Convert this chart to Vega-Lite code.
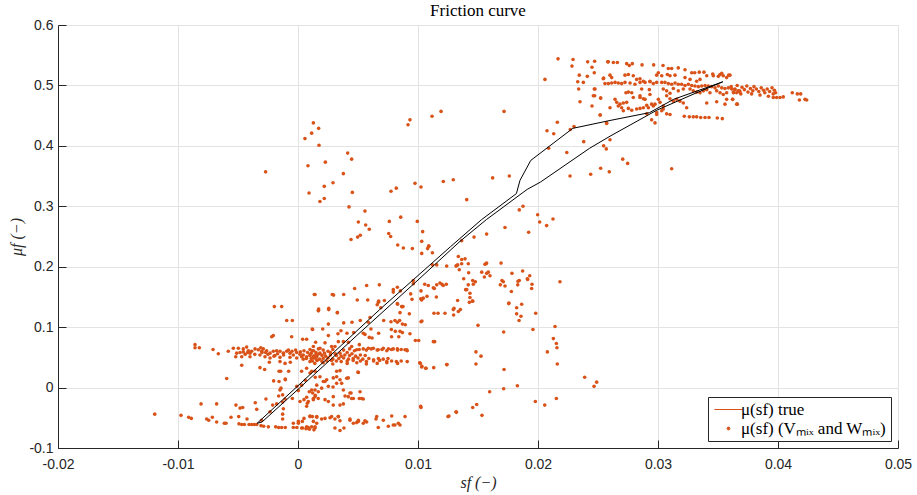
{
"$schema": "https://vega.github.io/schema/vega-lite/v6.json",
"width": 840, "height": 423,
"autosize": {"type": "none"},
"padding": {"left": 58, "top": 25, "right": 19, "bottom": 47},
"background": "white",
"title": {"text": "Friction curve", "font": "Liberation Serif", "fontSize": 17, "fontWeight": "normal", "color": "#000000", "offset": -2, "anchor": "middle"},
"datasets": {
"curve": [
{"o":1,"s":-0.0034,"mu":-0.059},{"o":2,"s":-0.0030,"mu":-0.057},{"o":3,"s":0.0,"mu":-0.003},{"o":4,"s":0.005,"mu":0.088},{"o":5,"s":0.010,"mu":0.178},{"o":6,"s":0.0135,"mu":0.242},{"o":7,"s":0.0157,"mu":0.278},{"o":8,"s":0.0191,"mu":0.328},{"o":9,"s":0.0202,"mu":0.340},{"o":10,"s":0.0243,"mu":0.396},{"o":11,"s":0.026,"mu":0.416},{"o":12,"s":0.0299,"mu":0.459},{"o":13,"s":0.033,"mu":0.486},{"o":14,"s":0.0354,"mu":0.506},{"o":15,"s":0.0313,"mu":0.477},{"o":16,"s":0.0293,"mu":0.455},{"o":17,"s":0.026,"mu":0.442},{"o":18,"s":0.0229,"mu":0.429},{"o":19,"s":0.0194,"mu":0.376},{"o":20,"s":0.0185,"mu":0.343},{"o":21,"s":0.0182,"mu":0.321},{"o":22,"s":0.0153,"mu":0.278},{"o":23,"s":0.0127,"mu":0.233},{"o":24,"s":0.0068,"mu":0.129},{"o":25,"s":0.0,"mu":0.003},{"o":26,"s":-0.0034,"mu":-0.059}
],
"pts": [
{"s":-0.01194,"mu":-0.044},{"s":-0.00975,"mu":-0.046},{"s":-0.00911,"mu":-0.049},{"s":-0.00889,"mu":-0.051},{"s":-0.00808,"mu":-0.027},{"s":-0.00761,"mu":-0.052},{"s":-0.00744,"mu":-0.054},{"s":-0.00714,"mu":-0.049},{"s":-0.00678,"mu":-0.057},{"s":-0.00678,"mu":-0.027},{"s":-0.00614,"mu":-0.059},{"s":-0.006,"mu":-0.059},{"s":-0.00558,"mu":-0.049},{"s":-0.00517,"mu":-0.029},{"s":-0.00494,"mu":-0.048},{"s":-0.00483,"mu":-0.034},{"s":-0.00461,"mu":-0.033},{"s":-0.00492,"mu":-0.06},{"s":-0.00469,"mu":-0.061},{"s":-0.00447,"mu":-0.061},{"s":-0.00425,"mu":-0.052},{"s":-0.00408,"mu":-0.061},{"s":-0.00386,"mu":-0.061},{"s":-0.00364,"mu":-0.061},{"s":-0.00344,"mu":-0.061},{"s":-0.00308,"mu":-0.063},{"s":-0.00286,"mu":-0.064},{"s":-0.00247,"mu":-0.065},{"s":-0.00186,"mu":-0.065},{"s":-0.00161,"mu":-0.066},{"s":-0.00136,"mu":-0.066},{"s":-0.00106,"mu":-0.066},{"s":-0.00356,"mu":-0.025},{"s":-0.00344,"mu":-0.036},{"s":-0.00267,"mu":-0.019},{"s":-0.00233,"mu":-0.04},{"s":-0.00303,"mu":-0.054},{"s":-0.00211,"mu":-0.029},{"s":-0.00178,"mu":-0.027},{"s":-0.00128,"mu":-0.024},{"s":-0.00122,"mu":-0.035},{"s":-0.00128,"mu":-0.044},{"s":-0.00128,"mu":-0.052},{"s":-0.00161,"mu":-0.014},{"s":-0.00128,"mu":-0.012},{"s":-0.00108,"mu":-0.019},{"s":-0.00203,"mu":0.011},{"s":-0.00158,"mu":0.01},{"s":-0.00142,"mu":-0.001},{"s":-0.00106,"mu":0.013},{"s":-0.0015,"mu":-0.004},{"s":-0.00594,"mu":0.015},{"s":-0.00469,"mu":0.037},{"s":-0.00317,"mu":0.033},{"s":-0.00278,"mu":0.03},{"s":-0.00239,"mu":0.042},{"s":-0.0015,"mu":0.043},{"s":-0.00144,"mu":0.027},{"s":-0.00108,"mu":0.04},{"s":-0.00078,"mu":0.027},{"s":-0.00064,"mu":0.042},{"s":-0.00219,"mu":0.084},{"s":-0.00206,"mu":0.086},{"s":-0.00094,"mu":0.111},{"s":-0.00047,"mu":0.111},{"s":-0.00053,"mu":0.084},{"s":-0.00197,"mu":0.134},{"s":-0.00136,"mu":0.134},{"s":-0.0001,"mu":0.002},{"s":0.00003,"mu":-0.005},{"s":-0.00047,"mu":-0.018},{"s":0.00017,"mu":-0.023},{"s":0.0005,"mu":-0.02},{"s":0.0003,"mu":0.004},{"s":0.00061,"mu":0.012},{"s":0.00072,"mu":-0.016},{"s":0.00086,"mu":-0.023},{"s":0.00128,"mu":-0.02},{"s":0.00144,"mu":-0.013},{"s":0.00169,"mu":-0.007},{"s":0.00003,"mu":-0.056},{"s":0.0005,"mu":-0.051},{"s":0.00072,"mu":-0.065},{"s":0.001,"mu":-0.048},{"s":0.00128,"mu":-0.056},{"s":0.00156,"mu":-0.048},{"s":-0.00039,"mu":-0.066},{"s":-0.0001,"mu":-0.066},{"s":0.0003,"mu":-0.067},{"s":0.00067,"mu":-0.068},{"s":0.00094,"mu":-0.069},{"s":0.00133,"mu":-0.07},{"s":-0.00158,"mu":0.027},{"s":-0.00106,"mu":0.014},
{"s":-0.00858,"mu":0.071},{"s":-0.00858,"mu":0.066},{"s":-0.00822,"mu":0.066},{"s":-0.00708,"mu":0.063},{"s":-0.00664,"mu":0.056},{"s":-0.00581,"mu":0.06},{"s":-0.00539,"mu":0.065},{"s":-0.00497,"mu":0.065},{"s":-0.00456,"mu":0.064},{"s":-0.00428,"mu":0.067},{"s":-0.00414,"mu":0.061},{"s":-0.00386,"mu":0.06},{"s":-0.00511,"mu":0.057},{"s":-0.00483,"mu":0.058},{"s":-0.00456,"mu":0.059},{"s":-0.004,"mu":0.057},{"s":-0.00358,"mu":0.064},{"s":-0.00331,"mu":0.0625},{"s":-0.00303,"mu":0.06},{"s":-0.00289,"mu":0.064},{"s":-0.00261,"mu":0.061},{"s":-0.00233,"mu":0.057},{"s":-0.00206,"mu":0.06},{"s":-0.00178,"mu":0.061},{"s":-0.0015,"mu":0.06},{"s":-0.00122,"mu":0.057},{"s":-0.00094,"mu":0.06},{"s":-0.00067,"mu":0.057},{"s":-0.00039,"mu":0.054},{"s":-0.00011,"mu":0.058},{"s":0.00017,"mu":0.055},{"s":0.00044,"mu":0.054},{"s":0.00072,"mu":0.051},{"s":0.001,"mu":0.054},{"s":0.00128,"mu":0.049},{"s":0.00156,"mu":0.051},{"s":0.00183,"mu":0.057},{"s":-0.00519,"mu":0.051},{"s":-0.00469,"mu":0.051},{"s":-0.004,"mu":0.051},{"s":-0.00317,"mu":0.054},{"s":-0.00275,"mu":0.051},{"s":-0.00233,"mu":0.049},{"s":-0.00192,"mu":0.053},{"s":-0.0015,"mu":0.05},{"s":-0.00067,"mu":0.05},{"s":-0.00011,"mu":0.049},{"s":0.00044,"mu":0.047},{"s":0.001,"mu":0.043},{"s":0.00156,"mu":0.0455},{"s":-0.0025,"mu":0.055},{"s":-0.002,"mu":0.052},{"s":-0.0012,"mu":0.054},{"s":-0.0008,"mu":0.062},{"s":-0.0005,"mu":0.06},{"s":-0.0002,"mu":0.062},{"s":0.0002,"mu":0.059},{"s":0.0005,"mu":0.061},{"s":0.0008,"mu":0.058},{"s":-0.003,"mu":0.058},{"s":-0.0036,"mu":0.055},{"s":-0.0044,"mu":0.055},{"s":-0.0031,"mu":0.066},{"s":-0.0042,"mu":0.058},{"s":0.0007,"mu":0.048},{"s":0.0012,"mu":0.061},{"s":0.0015,"mu":0.055},{"s":-0.0017,"mu":0.056},{"s":-0.0027,"mu":0.058},{"s":0.0003,"mu":0.051},
{"s":0.00039,"mu":0.08},{"s":0.00072,"mu":0.08},{"s":0.00119,"mu":0.097},{"s":0.00136,"mu":0.154},{"s":0.0017,"mu":0.128},{"s":0.00206,"mu":0.097},{"s":0.00256,"mu":0.129},{"s":0.00328,"mu":0.124},{"s":0.00494,"mu":0.145},{"s":0.0003,"mu":0.027},{"s":0.00072,"mu":0.032},{"s":0.00114,"mu":0.027},{"s":0.00144,"mu":0.017},
{"s":0.001,"mu":0.024},{"s":0.00142,"mu":0.027},{"s":0.00183,"mu":0.018},{"s":0.00211,"mu":0.01},{"s":0.00239,"mu":0.013},{"s":0.00294,"mu":0.016},{"s":0.00322,"mu":0.027},{"s":0.0035,"mu":0.028},{"s":0.00419,"mu":0.016},{"s":0.00503,"mu":0.025},{"s":0.00322,"mu":0.007},{"s":0.00364,"mu":0.007},{"s":0.00378,"mu":-0.004},{"s":0.00392,"mu":-0.014},{"s":0.00442,"mu":-0.009},{"s":0.00447,"mu":-0.018},{"s":0.00517,"mu":-0.007},{"s":0.00531,"mu":-0.018},{"s":0.00544,"mu":-0.019},{"s":0.00156,"mu":0.004},{"s":0.00142,"mu":-0.004},{"s":0.00114,"mu":-0.004},{"s":0.00128,"mu":-0.018},{"s":0.00169,"mu":-0.018},{"s":0.00225,"mu":-0.02},{"s":0.00294,"mu":-0.029},{"s":0.00253,"mu":-0.023},{"s":0.00406,"mu":0.0155},{"s":0.00433,"mu":-0.009},{"s":0.00511,"mu":-0.018},{"s":0.005,"mu":0.0255},{"s":0.00094,"mu":-0.007},{"s":0.00122,"mu":-0.009},{"s":0.00142,"mu":-0.015},{"s":0.00078,"mu":-0.026},{"s":0.00072,"mu":-0.031},{"s":0.00197,"mu":-0.001},{"s":0.00225,"mu":0.01},{"s":0.00253,"mu":0.002},{"s":0.00292,"mu":0.001},{"s":0.00294,"mu":-0.015},{"s":0.00322,"mu":0.018},{"s":0.0035,"mu":0.013},{"s":0.00419,"mu":-0.015},{"s":0.00461,"mu":-0.018},{"s":0.0035,"mu":-0.029},{"s":0.00378,"mu":-0.027},
{"s":-0.00039,"mu":-0.059},{"s":0.00003,"mu":-0.059},{"s":0.00036,"mu":-0.056},{"s":0.00086,"mu":-0.066},{"s":0.00114,"mu":-0.065},{"s":0.00142,"mu":-0.067},{"s":0.00039,"mu":-0.067},{"s":0.00156,"mu":-0.059},{"s":0.0012,"mu":-0.048},{"s":0.00197,"mu":-0.052},{"s":0.0028,"mu":-0.048},{"s":0.00336,"mu":-0.048},{"s":0.0035,"mu":-0.055},{"s":0.00308,"mu":-0.052},{"s":0.00383,"mu":-0.067},{"s":0.00433,"mu":-0.052},{"s":0.00461,"mu":-0.059},{"s":0.00503,"mu":-0.056},{"s":0.00544,"mu":-0.059},{"s":0.00572,"mu":-0.057},{"s":0.0065,"mu":-0.052},{"s":0.00669,"mu":-0.066},{"s":0.00753,"mu":-0.064},{"s":0.00794,"mu":-0.062},{"s":0.00836,"mu":-0.059},{"s":0.00892,"mu":-0.048},{"s":0.00781,"mu":-0.047},{"s":0.001,"mu":-0.047},{"s":0.00156,"mu":-0.049},{"s":0.00225,"mu":-0.051},{"s":0.00267,"mu":-0.05},{"s":0.00336,"mu":-0.048},{"s":0.00433,"mu":-0.054},{"s":0.00489,"mu":-0.058},{"s":0.00503,"mu":-0.054},{"s":0.00558,"mu":-0.055},{"s":0.00656,"mu":-0.048},{"s":0.00711,"mu":-0.054},{"s":0.00808,"mu":-0.062},{"s":0.0085,"mu":-0.062},{"s":0.00308,"mu":-0.067},{"s":0.0035,"mu":-0.071},{"s":0.00142,"mu":-0.065},
{"s":0.0017,"mu":0.127},{"s":0.00328,"mu":0.124},{"s":0.00253,"mu":0.105},{"s":0.00381,"mu":0.107},{"s":0.0045,"mu":0.108},{"s":0.00519,"mu":0.111},{"s":0.00122,"mu":0.096},{"s":0.00358,"mu":0.094},{"s":0.00333,"mu":0.089},{"s":0.00408,"mu":0.09},{"s":0.00464,"mu":0.091},{"s":0.00544,"mu":0.09},{"s":0.00558,"mu":0.088},{"s":0.00608,"mu":0.097},{"s":0.00594,"mu":0.083},{"s":0.00617,"mu":0.082},{"s":0.00672,"mu":0.09},{"s":0.00714,"mu":0.111},{"s":0.00775,"mu":0.109},{"s":0.00808,"mu":0.111},{"s":0.00828,"mu":0.108},{"s":0.00847,"mu":0.111},{"s":0.0083,"mu":0.138},{"s":0.00867,"mu":0.134},{"s":0.0085,"mu":0.124},{"s":0.00928,"mu":0.122},{"s":0.00894,"mu":0.104},{"s":0.0087,"mu":0.105},{"s":0.00778,"mu":0.096},{"s":0.00811,"mu":0.093},{"s":0.0085,"mu":0.093},{"s":0.0087,"mu":0.091},{"s":0.00933,"mu":0.089},{"s":0.0072,"mu":0.144},{"s":0.0069,"mu":0.132},{"s":0.0067,"mu":0.141},{"s":0.006,"mu":0.116},{"s":0.00586,"mu":0.108},{"s":0.0078,"mu":0.084},{"s":0.0084,"mu":0.084},{"s":0.01033,"mu":0.11},{"s":0.00978,"mu":0.078},{"s":0.01006,"mu":0.078},{"s":0.01139,"mu":0.076},{"s":0.01133,"mu":0.123},{"s":0.01167,"mu":0.123},{"s":0.01225,"mu":0.123},{"s":0.013,"mu":0.131},{"s":0.01297,"mu":0.12},{"s":0.01353,"mu":0.129},{"s":0.0133,"mu":0.144},{"s":0.01428,"mu":0.141},{"s":0.01456,"mu":0.143},{"s":0.015,"mu":0.103},{"s":0.01483,"mu":0.059},{"s":0.01483,"mu":0.039},{"s":0.01242,"mu":0.038},{"s":0.01131,"mu":0.033},{"s":0.01064,"mu":0.032},{"s":0.01033,"mu":0.035},{"s":0.01014,"mu":0.041},{"s":0.01025,"mu":-0.033},{"s":0.01258,"mu":-0.047},{"s":0.01317,"mu":-0.04},{"s":0.01456,"mu":-0.033},{"s":0.01489,"mu":-0.028},
{"s":0.001,"mu":0.063},{"s":0.0013,"mu":0.061},{"s":0.0017,"mu":0.064},{"s":0.0021,"mu":0.062},{"s":0.0025,"mu":0.06},{"s":0.0029,"mu":0.063},{"s":0.0038,"mu":0.062},{"s":0.0043,"mu":0.064},{"s":0.0047,"mu":0.061},{"s":0.0051,"mu":0.063},{"s":0.0057,"mu":0.062},{"s":0.0061,"mu":0.064},{"s":0.0066,"mu":0.062},{"s":0.007,"mu":0.063},{"s":0.0074,"mu":0.061},{"s":0.0078,"mu":0.063},{"s":0.0083,"mu":0.062},{"s":0.0086,"mu":0.063},{"s":0.0091,"mu":0.061},
{"s":0.0011,"mu":0.057},{"s":0.0015,"mu":0.058},{"s":0.0018,"mu":0.056},{"s":0.0022,"mu":0.057},{"s":0.0027,"mu":0.058},{"s":0.0031,"mu":0.056},{"s":0.0035,"mu":0.057},{"s":0.0041,"mu":0.058},{"s":0.0045,"mu":0.056},
{"s":0.001,"mu":0.053},{"s":0.0013,"mu":0.052},{"s":0.0016,"mu":0.054},{"s":0.002,"mu":0.053},{"s":0.0023,"mu":0.052},{"s":0.0027,"mu":0.054},{"s":0.0032,"mu":0.053},{"s":0.0036,"mu":0.052},{"s":0.0039,"mu":0.054},{"s":0.0043,"mu":0.053},{"s":0.0048,"mu":0.052},{"s":0.0052,"mu":0.054},{"s":0.0056,"mu":0.053},
{"s":0.0011,"mu":0.048},{"s":0.0014,"mu":0.049},{"s":0.0018,"mu":0.047},{"s":0.0021,"mu":0.048},{"s":0.0025,"mu":0.049},{"s":0.0029,"mu":0.047},{"s":0.0034,"mu":0.048},{"s":0.0038,"mu":0.049},{"s":0.0042,"mu":0.047},{"s":0.0046,"mu":0.048},{"s":0.005,"mu":0.049},{"s":0.0054,"mu":0.047},{"s":0.0059,"mu":0.048},{"s":0.0063,"mu":0.046},{"s":0.0067,"mu":0.048},{"s":0.0071,"mu":0.047},{"s":0.0075,"mu":0.048},
{"s":0.0012,"mu":0.044},{"s":0.0016,"mu":0.045},{"s":0.002,"mu":0.043},{"s":0.0024,"mu":0.044},{"s":0.0028,"mu":0.045},{"s":0.0032,"mu":0.044},{"s":0.0036,"mu":0.043},{"s":0.0041,"mu":0.044},{"s":0.0046,"mu":0.045},{"s":0.0052,"mu":0.044},{"s":0.0057,"mu":0.043},{"s":0.0063,"mu":0.044},{"s":0.0068,"mu":0.045},{"s":0.0074,"mu":0.043},{"s":0.0078,"mu":0.044},{"s":0.0082,"mu":0.043},{"s":0.0086,"mu":0.044},{"s":0.0091,"mu":0.043},
{"s":0.0014,"mu":0.04},{"s":0.0021,"mu":0.041},{"s":0.0029,"mu":0.039},{"s":0.0041,"mu":0.04},{"s":0.0049,"mu":0.041},{"s":0.0057,"mu":0.039},{"s":0.0066,"mu":0.04},{"s":0.0074,"mu":0.041},{"s":0.0083,"mu":0.04},
{"s":0.00128,"mu":0.068},{"s":0.00147,"mu":0.075},{"s":0.00183,"mu":0.065},{"s":0.00225,"mu":0.074},{"s":0.00253,"mu":0.086},{"s":0.0028,"mu":0.068},{"s":0.00308,"mu":0.068},{"s":0.00336,"mu":0.076},{"s":0.00378,"mu":0.076},{"s":0.0042,"mu":0.075},{"s":0.00447,"mu":0.068},{"s":0.00489,"mu":0.0625},{"s":0.00511,"mu":0.071},{"s":0.00544,"mu":0.064},{"s":0.00586,"mu":0.065},{"s":0.00628,"mu":0.065},{"s":0.00669,"mu":0.0625},{"s":0.00711,"mu":0.065},{"s":0.00753,"mu":0.064},{"s":0.00794,"mu":0.064},{"s":0.00828,"mu":0.064},{"s":0.00892,"mu":0.0625},{"s":0.00906,"mu":0.0625},
{"s":0.00142,"mu":0.154},{"s":0.00286,"mu":0.154},{"s":0.00297,"mu":0.153},{"s":0.00381,"mu":0.154},{"s":0.00472,"mu":0.164},{"s":0.00572,"mu":0.169},{"s":0.00678,"mu":0.17},{"s":0.00581,"mu":0.145},{"s":0.00672,"mu":0.143},{"s":0.0066,"mu":0.137},{"s":0.00794,"mu":0.162},{"s":0.00794,"mu":0.158},{"s":0.00828,"mu":0.166},{"s":0.00853,"mu":0.16},{"s":0.00828,"mu":0.139},{"s":0.00864,"mu":0.134},{"s":0.00875,"mu":0.134},{"s":0.00939,"mu":0.155},{"s":0.0095,"mu":0.146},{"s":0.00961,"mu":0.177},{"s":0.00961,"mu":0.172},{"s":0.01025,"mu":0.16},{"s":0.01023,"mu":0.147},{"s":0.0103,"mu":0.146},{"s":0.01056,"mu":0.171},{"s":0.01086,"mu":0.169},{"s":0.01075,"mu":0.151},{"s":0.01136,"mu":0.164},{"s":0.01153,"mu":0.15},{"s":0.012,"mu":0.171},{"s":0.0121,"mu":0.169},{"s":0.01236,"mu":0.171},{"s":0.00172,"mu":0.13},{"s":0.00256,"mu":0.131},{"s":0.01031,"mu":0.222},{"s":0.0109,"mu":0.234},{"s":0.0108,"mu":0.23},{"s":0.0112,"mu":0.223},{"s":0.0112,"mu":0.203},
{"s":-0.0027,"mu":0.357},{"s":0.00058,"mu":0.412},{"s":0.00114,"mu":0.421},{"s":0.00128,"mu":0.438},{"s":0.00172,"mu":0.429},{"s":0.00175,"mu":0.401},{"s":0.00083,"mu":0.367},{"s":0.00228,"mu":0.373},{"s":0.00092,"mu":0.322},{"s":0.00183,"mu":0.308},{"s":0.00219,"mu":0.313},{"s":0.00219,"mu":0.333},{"s":0.00292,"mu":0.339},{"s":0.00378,"mu":0.354},{"s":0.00414,"mu":0.388},{"s":0.00447,"mu":0.378},{"s":0.00453,"mu":0.323},{"s":0.00425,"mu":0.299},{"s":0.00503,"mu":0.274},{"s":0.00558,"mu":0.292},{"s":0.00564,"mu":0.269},{"s":0.00594,"mu":0.262},{"s":0.00442,"mu":0.245},{"s":0.00497,"mu":0.249},{"s":0.00519,"mu":0.252},{"s":0.00775,"mu":0.325},{"s":0.00819,"mu":0.33},{"s":0.00917,"mu":0.435},{"s":0.00933,"mu":0.443},{"s":0.01117,"mu":0.449},{"s":0.01192,"mu":0.457},{"s":0.00975,"mu":0.338},{"s":0.01025,"mu":0.332},{"s":0.01211,"mu":0.341},{"s":0.01294,"mu":0.344},{"s":0.00761,"mu":0.275},{"s":0.00756,"mu":0.255},{"s":0.00772,"mu":0.25},{"s":0.00856,"mu":0.282},{"s":0.00994,"mu":0.275},{"s":0.01039,"mu":0.258},{"s":0.01031,"mu":0.242},{"s":0.00831,"mu":0.236},{"s":0.00878,"mu":0.231},{"s":0.00953,"mu":0.23},{"s":0.01089,"mu":0.234},
{"s":0.0103,"mu":0.145},{"s":0.01044,"mu":0.148},{"s":0.01128,"mu":0.165},{"s":0.01156,"mu":0.17},{"s":0.01239,"mu":0.201},{"s":0.01322,"mu":0.202},{"s":0.01344,"mu":0.195},{"s":0.01156,"mu":0.203},{"s":0.01025,"mu":0.109},{"s":0.01128,"mu":0.076},{"s":0.01239,"mu":0.038},{"s":0.01294,"mu":0.129},{"s":0.01336,"mu":0.126},{"s":0.0102,"mu":0.04},{"s":0.0103,"mu":0.034},{"s":0.01067,"mu":0.032},{"s":0.01022,"mu":-0.031},{"s":0.0132,"mu":-0.041},{"s":0.0125,"mu":-0.048},
{"s":0.01406,"mu":0.311},{"s":0.01875,"mu":0.3},{"s":0.01844,"mu":0.294},{"s":0.01997,"mu":0.286},{"s":0.02014,"mu":0.274},{"s":0.02072,"mu":0.268},{"s":0.02125,"mu":0.279},{"s":0.01922,"mu":0.257},{"s":0.01725,"mu":0.265},{"s":0.01572,"mu":0.254},{"s":0.01467,"mu":0.249},{"s":0.01364,"mu":0.243},{"s":0.01336,"mu":0.217},{"s":0.01364,"mu":0.212},{"s":0.01392,"mu":0.213},{"s":0.01317,"mu":0.201},{"s":0.01331,"mu":0.203},{"s":0.01364,"mu":0.205},{"s":0.01419,"mu":0.205},{"s":0.01567,"mu":0.205},{"s":0.01572,"mu":0.206},{"s":0.01692,"mu":0.206},{"s":0.01422,"mu":0.19},{"s":0.01531,"mu":0.191},{"s":0.01553,"mu":0.183},{"s":0.01572,"mu":0.189},{"s":0.01586,"mu":0.191},{"s":0.016,"mu":0.185},{"s":0.01783,"mu":0.189},{"s":0.01872,"mu":0.193},{"s":0.01931,"mu":0.185},{"s":0.01914,"mu":0.179},{"s":0.01844,"mu":0.177},{"s":0.01833,"mu":0.176},{"s":0.01831,"mu":0.17},{"s":0.017,"mu":0.177},{"s":0.01711,"mu":0.175},{"s":0.01686,"mu":0.17},{"s":0.01725,"mu":0.168},{"s":0.0195,"mu":0.171},{"s":0.01947,"mu":0.164},{"s":0.01778,"mu":0.159},{"s":0.02183,"mu":0.175},{"s":0.01381,"mu":0.18},{"s":0.01419,"mu":0.17},{"s":0.01456,"mu":0.177},{"s":0.01478,"mu":0.175},{"s":0.01461,"mu":0.171},{"s":0.01406,"mu":0.162},{"s":0.01433,"mu":0.156},{"s":0.01433,"mu":0.149},{"s":0.01453,"mu":0.143},{"s":0.01183,"mu":0.173},{"s":0.01756,"mu":0.139},{"s":0.01822,"mu":0.132},{"s":0.01864,"mu":0.138},{"s":0.01822,"mu":0.122},{"s":0.01858,"mu":0.118},{"s":0.01842,"mu":0.111},{"s":0.01981,"mu":0.123},{"s":0.01714,"mu":0.092},{"s":0.01958,"mu":0.096},{"s":0.02142,"mu":0.101},{"s":0.02128,"mu":0.081},{"s":0.02153,"mu":0.073},{"s":0.02158,"mu":0.066},{"s":0.02078,"mu":0.059},{"s":0.02161,"mu":0.039},{"s":0.01525,"mu":0.052},{"s":0.01717,"mu":0.03},{"s":0.02389,"mu":0.017},{"s":0.02489,"mu":0.009},{"s":0.02467,"mu":0.002},{"s":0.01828,"mu":0.003},{"s":0.01714,"mu":-0.002},{"s":0.01597,"mu":-0.007},{"s":0.02153,"mu":-0.018},{"s":0.01533,"mu":-0.046},{"s":0.01978,"mu":-0.023},{"s":0.02056,"mu":-0.029},{"s":0.01558,"mu":0.204},{"s":0.01911,"mu":0.18},{"s":0.01397,"mu":0.162},{"s":0.01758,"mu":0.14},
{"s":0.02167,"mu":0.544},{"s":0.02292,"mu":0.543},{"s":0.02283,"mu":0.532},{"s":0.02414,"mu":0.539},{"s":0.02472,"mu":0.54},{"s":0.0245,"mu":0.53},{"s":0.02469,"mu":0.521},{"s":0.02581,"mu":0.539},{"s":0.02344,"mu":0.517},{"s":0.02411,"mu":0.515},{"s":0.02331,"mu":0.506},{"s":0.02378,"mu":0.505},{"s":0.02547,"mu":0.512},{"s":0.02339,"mu":0.494},{"s":0.02469,"mu":0.494},{"s":0.02472,"mu":0.483},{"s":0.02522,"mu":0.479},{"s":0.0235,"mu":0.473},{"s":0.0245,"mu":0.466},{"s":0.02058,"mu":0.51},{"s":0.02161,"mu":0.439},{"s":0.02075,"mu":0.425},{"s":0.02131,"mu":0.42},{"s":0.02269,"mu":0.427},{"s":0.023,"mu":0.432},{"s":0.02381,"mu":0.407},{"s":0.02572,"mu":0.437},{"s":0.02519,"mu":0.451},{"s":0.02089,"mu":0.396},{"s":0.0224,"mu":0.389},{"s":0.02547,"mu":0.4},{"s":0.02569,"mu":0.395},{"s":0.02267,"mu":0.35},{"s":0.02439,"mu":0.353},{"s":0.02522,"mu":0.363},{"s":0.02594,"mu":0.357},{"s":0.01717,"mu":0.457},{"s":0.01622,"mu":0.347},{"s":0.01761,"mu":0.35},{"s":0.026,"mu":0.41},{"s":0.02706,"mu":0.378},{"s":0.02747,"mu":0.371},{"s":0.03114,"mu":0.362},
{"s":0.02586,"mu":0.539},{"s":0.02628,"mu":0.538},{"s":0.02661,"mu":0.538},{"s":0.02739,"mu":0.536},{"s":0.02761,"mu":0.533},{"s":0.02786,"mu":0.536},{"s":0.02867,"mu":0.534},{"s":0.02964,"mu":0.534},{"s":0.03042,"mu":0.533},{"s":0.03086,"mu":0.528},{"s":0.03114,"mu":0.528},{"s":0.03169,"mu":0.529},{"s":0.03225,"mu":0.526},{"s":0.03281,"mu":0.521},{"s":0.03306,"mu":0.521},{"s":0.03344,"mu":0.522},{"s":0.03383,"mu":0.522},{"s":0.03456,"mu":0.519},{"s":0.03531,"mu":0.52},{"s":0.03589,"mu":0.517},
{"s":0.02544,"mu":0.511},{"s":0.026,"mu":0.517},{"s":0.02614,"mu":0.513},{"s":0.02725,"mu":0.517},{"s":0.02753,"mu":0.518},{"s":0.02794,"mu":0.516},{"s":0.02822,"mu":0.51},{"s":0.0285,"mu":0.511},{"s":0.02878,"mu":0.507},{"s":0.02933,"mu":0.507},{"s":0.02989,"mu":0.517},{"s":0.03003,"mu":0.521},{"s":0.03031,"mu":0.516},{"s":0.03078,"mu":0.518},{"s":0.031,"mu":0.516},{"s":0.03142,"mu":0.517},{"s":0.03225,"mu":0.513},{"s":0.03267,"mu":0.51},{"s":0.03322,"mu":0.507},{"s":0.0335,"mu":0.51},{"s":0.03406,"mu":0.516},{"s":0.03461,"mu":0.516},{"s":0.03503,"mu":0.515},{"s":0.03517,"mu":0.518},{"s":0.03544,"mu":0.516},{"s":0.03572,"mu":0.513},
{"s":0.02558,"mu":0.503},{"s":0.02586,"mu":0.503},{"s":0.02614,"mu":0.504},{"s":0.02642,"mu":0.505},{"s":0.02669,"mu":0.504},{"s":0.02697,"mu":0.503},{"s":0.02725,"mu":0.505},{"s":0.02767,"mu":0.504},{"s":0.02808,"mu":0.502},{"s":0.0285,"mu":0.505},{"s":0.02892,"mu":0.505},{"s":0.02933,"mu":0.506},{"s":0.02961,"mu":0.503},{"s":0.02989,"mu":0.505},{"s":0.03031,"mu":0.505},{"s":0.03058,"mu":0.505},{"s":0.03086,"mu":0.503},{"s":0.03114,"mu":0.502},{"s":0.03142,"mu":0.504},{"s":0.03169,"mu":0.502},{"s":0.03197,"mu":0.502},{"s":0.03225,"mu":0.5},{"s":0.03253,"mu":0.502},{"s":0.03281,"mu":0.5},{"s":0.03308,"mu":0.499},{"s":0.03336,"mu":0.498},{"s":0.03364,"mu":0.499},{"s":0.03392,"mu":0.5},{"s":0.03419,"mu":0.499},{"s":0.03447,"mu":0.498},{"s":0.03475,"mu":0.496},{"s":0.03503,"mu":0.499},{"s":0.03531,"mu":0.496},{"s":0.03558,"mu":0.495},{"s":0.03586,"mu":0.496},{"s":0.03614,"mu":0.494},{"s":0.03642,"mu":0.493},{"s":0.03669,"mu":0.491},
{"s":0.03044,"mu":0.494},{"s":0.03072,"mu":0.491},{"s":0.03128,"mu":0.495},{"s":0.03169,"mu":0.491},{"s":0.03211,"mu":0.494},{"s":0.03267,"mu":0.494},{"s":0.03294,"mu":0.491},{"s":0.03322,"mu":0.489},{"s":0.03378,"mu":0.491},{"s":0.03433,"mu":0.488},{"s":0.03489,"mu":0.491},{"s":0.03517,"mu":0.488},{"s":0.03572,"mu":0.488},{"s":0.03628,"mu":0.489},{"s":0.03656,"mu":0.488},{"s":0.03544,"mu":0.485},{"s":0.03406,"mu":0.493},{"s":0.0335,"mu":0.488},{"s":0.03683,"mu":0.489},
{"s":0.02475,"mu":0.494},{"s":0.02461,"mu":0.483},{"s":0.02522,"mu":0.479},{"s":0.02642,"mu":0.477},{"s":0.02656,"mu":0.472},{"s":0.02683,"mu":0.469},{"s":0.02711,"mu":0.471},{"s":0.02697,"mu":0.463},{"s":0.02733,"mu":0.488},{"s":0.02753,"mu":0.489},{"s":0.02781,"mu":0.488},{"s":0.02794,"mu":0.48},{"s":0.0285,"mu":0.48},{"s":0.02878,"mu":0.478},{"s":0.02928,"mu":0.493},{"s":0.02933,"mu":0.485},{"s":0.02947,"mu":0.469},{"s":0.02975,"mu":0.469},{"s":0.02906,"mu":0.467},{"s":0.02878,"mu":0.463},{"s":0.02822,"mu":0.461},{"s":0.02781,"mu":0.459},{"s":0.02753,"mu":0.462},{"s":0.02711,"mu":0.458},{"s":0.026,"mu":0.463},{"s":0.02517,"mu":0.451},{"s":0.02572,"mu":0.438},{"s":0.0292,"mu":0.463},{"s":0.03003,"mu":0.477},{"s":0.03017,"mu":0.472},{"s":0.03044,"mu":0.461},{"s":0.03072,"mu":0.453},{"s":0.031,"mu":0.478},{"s":0.03128,"mu":0.474},{"s":0.03156,"mu":0.477},{"s":0.03183,"mu":0.474},{"s":0.03211,"mu":0.471},{"s":0.03072,"mu":0.483},{"s":0.031,"mu":0.487},{"s":0.02989,"mu":0.455},{"s":0.02947,"mu":0.443},{"s":0.02975,"mu":0.438},{"s":0.03031,"mu":0.458},{"s":0.02906,"mu":0.453},{"s":0.0285,"mu":0.462},{"s":0.03239,"mu":0.463},{"s":0.03406,"mu":0.471},{"s":0.03489,"mu":0.473},{"s":0.03558,"mu":0.469},{"s":0.03572,"mu":0.477},{"s":0.03622,"mu":0.477},{"s":0.03656,"mu":0.469},{"s":0.02864,"mu":0.494},{"s":0.0285,"mu":0.483},{"s":0.02892,"mu":0.477},{"s":0.02961,"mu":0.466},{"s":0.03044,"mu":0.466},{"s":0.031,"mu":0.452},{"s":0.02989,"mu":0.452},{"s":0.02669,"mu":0.466},{"s":0.02739,"mu":0.472},
{"s":0.03219,"mu":0.449},{"s":0.03261,"mu":0.448},{"s":0.03294,"mu":0.448},{"s":0.03322,"mu":0.448},{"s":0.03356,"mu":0.447},{"s":0.03392,"mu":0.447},{"s":0.03425,"mu":0.447},{"s":0.03494,"mu":0.446},{"s":0.03536,"mu":0.445},
{"s":0.0361,"mu":0.498},{"s":0.0364,"mu":0.494},{"s":0.0366,"mu":0.5},{"s":0.0368,"mu":0.491},{"s":0.037,"mu":0.497},{"s":0.0372,"mu":0.493},{"s":0.0374,"mu":0.499},{"s":0.0375,"mu":0.489},{"s":0.0377,"mu":0.495},{"s":0.0379,"mu":0.491},{"s":0.038,"mu":0.498},{"s":0.0382,"mu":0.494},{"s":0.0384,"mu":0.49},{"s":0.0386,"mu":0.496},{"s":0.0388,"mu":0.492},{"s":0.0389,"mu":0.488},{"s":0.0391,"mu":0.494},{"s":0.0393,"mu":0.49},{"s":0.0395,"mu":0.496},{"s":0.0396,"mu":0.486},{"s":0.0397,"mu":0.492},{"s":0.0363,"mu":0.488},{"s":0.0369,"mu":0.486},{"s":0.0378,"mu":0.486},{"s":0.0385,"mu":0.484},{"s":0.0392,"mu":0.482},{"s":0.0398,"mu":0.488},
{"s":0.03961,"mu":0.48},{"s":0.03989,"mu":0.48},{"s":0.04017,"mu":0.48},{"s":0.04044,"mu":0.481},{"s":0.04119,"mu":0.488},{"s":0.04161,"mu":0.486},{"s":0.04189,"mu":0.486},{"s":0.04178,"mu":0.476},{"s":0.04225,"mu":0.477},{"s":0.04239,"mu":0.476},{"s":0.03622,"mu":0.477},{"s":0.03661,"mu":0.469},{"s":0.036,"mu":0.517}
]
},
"layer": [
{
"data": {"name": "pts"},
"mark": {"type": "point", "filled": true, "size": 13, "opacity": 1},
"encoding": {
"x": {"field": "s", "type": "quantitative", "scale": {"domain": [-0.02, 0.05], "nice": false, "zero": false},
 "axis": {"values": [-0.02, -0.01, 0, 0.01, 0.02, 0.03, 0.04, 0.05], "labelExpr": "'' + round(datum.value*100)/100", "title": "sf (−)"}},
"y": {"field": "mu", "type": "quantitative", "scale": {"domain": [-0.1, 0.6], "nice": false, "zero": false},
 "axis": {"values": [-0.1, 0, 0.1, 0.2, 0.3, 0.4, 0.5, 0.6], "labelExpr": "'' + round(datum.value*10)/10", "title": "μf (−)"}},
"color": {"datum": "μ(sf) (Vₘᵢₓ and Wₘᵢₓ)", "type": "nominal",
 "scale": {"domain": ["μ(sf) true", "μ(sf) (Vₘᵢₓ and Wₘᵢₓ)"], "range": ["#000000", "#D95319"]},
 "legend": {"title": null, "symbolStrokeWidth": 1, "symbolStrokeColor": "#D95319",
  "encode": {"symbols": {"update": {"stroke": {"scale": "color", "field": "value"}, "strokeWidth": {"value": 1}, "strokeOpacity": {"value": 1}}}}}},
"shape": {"datum": "μ(sf) (Vₘᵢₓ and Wₘᵢₓ)", "type": "nominal",
 "scale": {"domain": ["μ(sf) true", "μ(sf) (Vₘᵢₓ and Wₘᵢₓ)"], "range": ["M-10,0H10", "circle"]},
 "legend": {"title": null}}
}
},
{
"data": {"name": "curve"},
"mark": {"type": "line", "color": "#000000", "strokeWidth": 1},
"encoding": {
"x": {"field": "s", "type": "quantitative"},
"y": {"field": "mu", "type": "quantitative"},
"order": {"field": "o", "type": "quantitative"}
}
}
],
"config": {
"view": {"stroke": null},
"axis": {"domainColor": "#262626", "domainWidth": 1, "tickColor": "#262626", "tickSize": -8, "tickWidth": 1,
 "gridColor": "#e3e3e3", "gridWidth": 1, "labelFont": "Liberation Sans", "labelFontSize": 14, "labelColor": "#262626",
 "labelOverlap": false, "labelFlush": false,
 "titleFont": "Liberation Serif", "titleFontSize": 16, "titleFontWeight": "normal", "titleColor": "#262626", "titleFontStyle": "italic"},
"axisX": {"labelPadding": 17, "titlePadding": 3},
"axisY": {"labelPadding": 13, "titlePadding": 4},
"legend": {"orient": "bottom-right", "offset": 7, "strokeColor": "#262626", "strokeWidth": 1, "fillColor": "white", "padding": 4,
 "labelFont": "Liberation Serif", "labelFontSize": 17, "labelColor": "#000000", "symbolSize": 8, "symbolOffset": 8, "labelOffset": 4, "rowPadding": 1, "cornerRadius": 0}
}
}
